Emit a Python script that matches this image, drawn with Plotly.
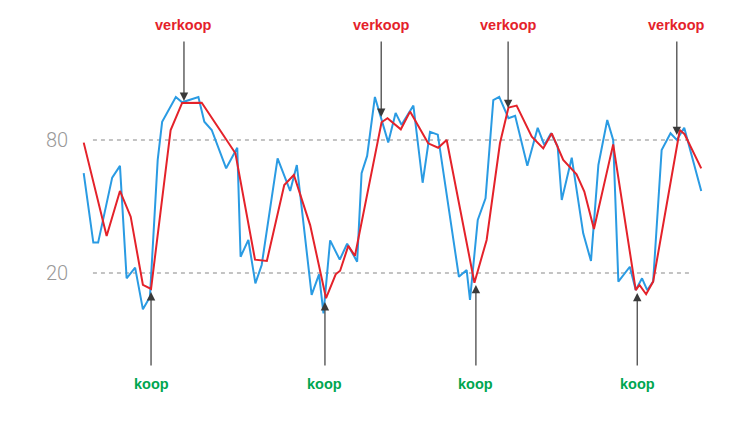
import plotly.graph_objects as go

# time index (trading-day scale) and oscillator values
k_t = [0, 2.6, 3.9, 7.7, 9.8, 11.6, 13.9, 16.0, 17.9, 20.0,
       21.2, 24.9, 26.6, 31.0, 32.6, 34.6, 38.5, 41.5, 42.4, 44.5,
       46.4, 48.1, 52.4, 55.8, 57.6, 61.6, 63.6, 64.8, 66.6, 69.2,
       71.2, 73.9, 75.1, 76.6, 78.7, 82.3, 84.3, 85.9, 89.1, 91.6,
       93.6, 95.7, 101.4, 103.5, 104.4, 106.5, 108.6, 110.7, 112.3, 114.8,
       116.6, 119.9, 122.7, 124.5, 126.3, 128.1, 129.2, 131.9, 135.0, 137.1,
       139.1, 141.5, 143.1, 144.5, 147.6, 149.2, 150.9, 152.3, 153.9, 156.2,
       158.6, 160.3, 162.3, 166.9]
k_values = [65.0, 33.7, 33.7, 63.0, 68.3, 17.6, 22.4, 3.6, 9.2, 71.0,
            88.2, 99.4, 97.0, 99.4, 88.2, 84.5, 67.2, 76.5, 27.3, 34.9,
            15.3, 23.6, 71.7, 57.0, 68.7, 10.1, 19.4, 1.8, 34.7, 26.0,
            33.2, 25.1, 65.0, 72.8, 99.4, 78.9, 92.2, 86.8, 95.5, 60.7,
            83.7, 82.4, 18.3, 21.3, 7.8, 43.9, 53.7, 98.0, 99.4, 89.8,
            90.9, 68.4, 85.5, 77.7, 83.0, 77.0, 52.9, 72.0, 37.9, 25.4,
            68.7, 89.0, 80.0, 16.1, 22.8, 12.3, 17.6, 12.3, 16.1, 75.5,
            83.0, 80.0, 85.5, 57.0]

d_t = [0, 6.2, 9.8, 12.7, 16.0, 18.2, 23.5, 26.6, 31.9, 41.0,
       46.3, 49.5, 54.2, 56.8, 61.2, 65.5, 68.1, 69.3, 71.5, 73.3,
       80.5, 82.1, 85.7, 88.2, 93.1, 95.8, 98.1, 105.6, 108.9, 112.5,
       114.8, 117.0, 121.1, 124.2, 126.5, 129.6, 133.2, 135.3, 137.9, 143.1,
       149.2, 150.2, 152.0, 153.9, 161.1, 162.4, 166.9]
d_values = [78.8, 36.7, 57.0, 45.4, 14.6, 12.8, 84.5, 96.7, 96.8, 74.0,
            26.0, 25.4, 59.7, 64.2, 41.6, 8.6, 19.4, 21.0, 32.2, 27.7,
            88.0, 89.8, 84.8, 92.8, 78.5, 76.5, 80.0, 15.6, 34.9, 78.5,
            94.6, 95.5, 81.5, 76.2, 83.0, 71.0, 64.5, 56.7, 39.8, 78.0,
            12.3, 14.6, 10.4, 16.1, 84.5, 82.6, 67.2]

levels = [80, 20]
level_labels = ["80", "20"]

sell_t = [27.1, 80.4, 114.7, 160.3]
sell_values = [97.6, 90.4, 94.4, 82.2]
buy_t = [18.2, 65.2, 106.0, 149.6]
buy_values = [11.4, 6.9, 14.6, 11.0]
sell_label = "verkoop"
buy_label = "koop"

BLUE = "#2a9be3"
RED = "#e4222a"
GREEN = "#00a650"
GREY = "#b0b0b0"
ARROW = "#3a3a3a"

fig = go.Figure()
fig.add_trace(go.Scatter(x=k_t, y=k_values, mode="lines",
                         line=dict(color=BLUE, width=2), hoverinfo="skip"))
fig.add_trace(go.Scatter(x=d_t, y=d_values, mode="lines",
                         line=dict(color=RED, width=2), hoverinfo="skip"))

x_first, x_last = 2.5, 164.4
for lv, lab in zip(levels, level_labels):
    fig.add_shape(type="line", x0=x_first, x1=x_last, y0=lv, y1=lv,
                  xref="x", yref="y", layer="below",
                  line=dict(color=GREY, width=1.5, dash="4px,4px"))
    fig.add_annotation(x=-7.2, y=lv, text=lab, showarrow=False,
                       xanchor="center", yanchor="middle",
                       font=dict(family="Roboto", size=20, color="#999999", weight=300))

sell_tail, sell_text_y = 125.1, 131.9
buy_tail, buy_text_y = -22.4, -30.1

for t, v in zip(sell_t, sell_values):
    fig.add_annotation(x=t, y=v, ax=t, ay=sell_tail, axref="x", ayref="y",
                       text="", showarrow=True, arrowhead=2, arrowsize=1.4,
                       arrowwidth=1.2, arrowcolor=ARROW, standoff=0)
    fig.add_annotation(x=t, y=sell_text_y, text=sell_label, showarrow=False,
                       xanchor="center", yanchor="middle",
                       font=dict(family="Liberation Sans", size=14.5, color=RED, weight="bold"))

for t, v in zip(buy_t, buy_values):
    fig.add_annotation(x=t, y=v, ax=t, ay=buy_tail, axref="x", ayref="y",
                       text="", showarrow=True, arrowhead=2, arrowsize=1.4,
                       arrowwidth=1.2, arrowcolor=ARROW, standoff=0)
    fig.add_annotation(x=t, y=buy_text_y, text=buy_label, showarrow=False,
                       xanchor="center", yanchor="middle",
                       font=dict(family="Liberation Sans", size=14.5, color=GREEN, weight="bold"))

# page body adds an 8px offset; ranges compensate so marks land where the reference has them
fig.update_layout(
    width=750, height=422,
    margin=dict(l=0, r=0, t=0, b=0),
    paper_bgcolor="white", plot_bgcolor="white",
    showlegend=False,
    xaxis=dict(range=[-20.46, 182.24], visible=False, fixedrange=True),
    yaxis=dict(range=[-50.84, 139.53], visible=False, fixedrange=True),
)

fig.write_html("out.html", config={"displayModeBar": False})
